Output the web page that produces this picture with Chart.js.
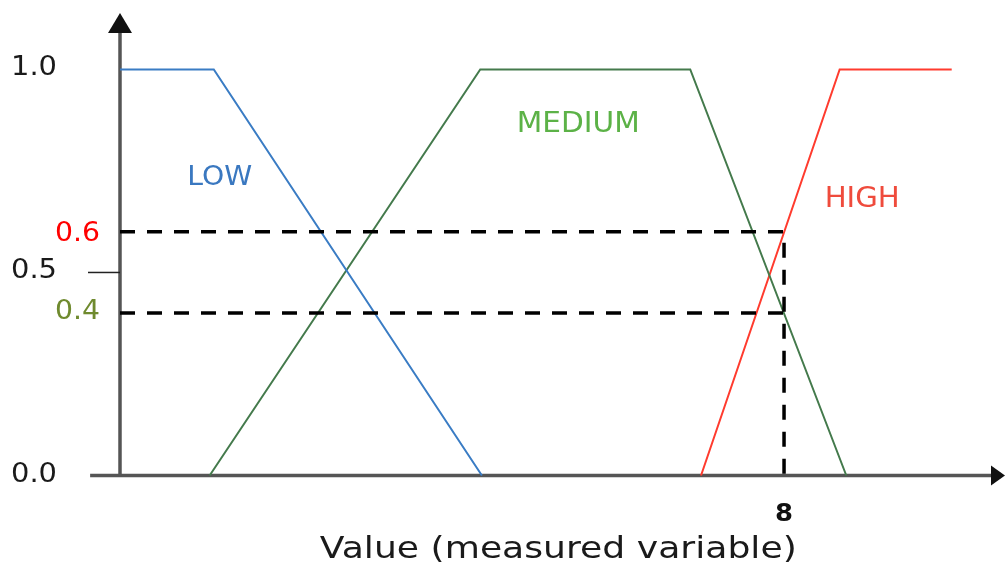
<!DOCTYPE html>
<html>
<head>
<meta charset="utf-8">
<script src="https://cdn.jsdelivr.net/npm/chart.js@4.4.1/dist/chart.umd.min.js"></script>
<style>
html,body{margin:0;padding:0;background:#fff;}
#wrap{width:1006px;height:565px;position:relative;}
</style>
</head>
<body>
<div id="wrap"><canvas id="c"></canvas></div>
<script>
// ---- Data (membership functions, x = measured value, y = membership degree) ----
const lowX  = [0, 1.13, 4.36];
const lowY  = [1, 1, 0];
const medX  = [1.08, 4.34, 6.87, 8.75];
const medY  = [0, 1, 1, 0];
const highX = [7.0, 8.67, 10.02];
const highY = [0, 1, 1];

const crispValue = 8;        // measured input
const highDegree = 0.6;      // membership in HIGH at x = 8
const medDegree  = 0.4;      // membership in MEDIUM at x = 8

const yTickValues = [0.0, 0.5, 1.0];
const yTickLabels = ["0.0", "0.5", "1.0"];
const xTickLabel  = "8";
const xTitle      = "Value (measured variable)";
const setNames    = ["LOW", "MEDIUM", "HIGH"];

const toPts = (xs, ys) => xs.map((x, i) => ({x: x, y: ys[i]}));

const dashHigh = [{x: 0, y: highDegree}, {x: crispValue, y: highDegree}, {x: crispValue, y: 0}];
const dashMed  = [{x: 0, y: medDegree},  {x: crispValue, y: medDegree}];

// text helper: draw text horizontally fitted to a width
function drawText(ctx, text, x, y, font, color, width, align) {
  ctx.save();
  ctx.font = font;
  const w = ctx.measureText(text).width;
  const s = width ? width / w : 1;
  ctx.translate(x, y);
  ctx.scale(s, 1);
  ctx.fillStyle = color;
  ctx.textAlign = align || 'left';
  ctx.textBaseline = 'alphabetic';
  ctx.fillText(text, 0, 0);
  ctx.restore();
}

const axesPlugin = {
  id: 'fuzzyAxes',
  beforeDatasetsDraw(chart) {
    const ctx = chart.ctx, xs = chart.scales.x, ys = chart.scales.y, ca = chart.chartArea;
    const x0 = xs.getPixelForValue(0), y0 = ys.getPixelForValue(0);
    ctx.save();
    ctx.strokeStyle = '#555';
    ctx.lineWidth = 3.5;
    ctx.lineCap = 'butt';
    // x axis
    ctx.beginPath();
    ctx.moveTo(xs.getPixelForValue(-0.36), y0);
    ctx.lineTo(ca.right - 8, y0);
    ctx.stroke();
    // y axis
    ctx.beginPath();
    ctx.moveTo(x0, y0 + 1.5);
    ctx.lineTo(x0, ca.top + 12);
    ctx.stroke();
    // arrowheads
    ctx.fillStyle = '#111';
    ctx.beginPath();
    ctx.moveTo(x0, ca.top);
    ctx.lineTo(x0 - 12, ca.top + 20);
    ctx.lineTo(x0 + 12, ca.top + 20);
    ctx.closePath();
    ctx.fill();
    ctx.beginPath();
    ctx.moveTo(ca.right + 1, y0);
    ctx.lineTo(ca.right - 13, y0 - 10);
    ctx.lineTo(ca.right - 13, y0 + 10);
    ctx.closePath();
    ctx.fill();
    // small tick at 0.5
    const y5 = ys.getPixelForValue(0.5);
    ctx.strokeStyle = '#222';
    ctx.lineWidth = 1.5;
    ctx.beginPath();
    ctx.moveTo(x0 - 32, y5);
    ctx.lineTo(x0, y5);
    ctx.stroke();
    ctx.restore();
  },
  afterDatasetsDraw(chart) {
    const ctx = chart.ctx, xs = chart.scales.x, ys = chart.scales.y;
    const F = '"DejaVu Sans", sans-serif';
    // y tick labels
    yTickValues.forEach((v, i) => {
      drawText(ctx, yTickLabels[i], 11, ys.getPixelForValue(v) + 6, '27px ' + F, '#1a1a1a', 46, 'left');
    });
    drawText(ctx, highDegree.toFixed(1), 55, ys.getPixelForValue(highDegree) + 9, '27px ' + F, '#ff0000', 45, 'left');
    drawText(ctx, medDegree.toFixed(1), 55, ys.getPixelForValue(medDegree) + 6, '27px ' + F, '#6f8a2e', 45, 'left');
    // x tick label
    const y0 = ys.getPixelForValue(0);
    drawText(ctx, xTickLabel, xs.getPixelForValue(crispValue), y0 + 45, 'bold 24px ' + F, '#111', 18, 'center');
    // x title
    drawText(ctx, xTitle, xs.getPixelForValue(5.28), y0 + 82, '31px ' + F, '#1a1a1a', 477, 'center');
    // set names
    drawText(ctx, setNames[0], xs.getPixelForValue(0.81), ys.getPixelForValue(0.716), '26px ' + F, '#3a78c0', 65, 'left');
    drawText(ctx, setNames[1], xs.getPixelForValue(4.78), ys.getPixelForValue(0.846), '28px ' + F, '#5cb247', 123, 'left');
    drawText(ctx, setNames[2], xs.getPixelForValue(8.49), ys.getPixelForValue(0.661), '28px ' + F, '#ef4b3c', 75, 'left');
  }
};

new Chart(document.getElementById('c'), {
  type: 'scatter',
  data: {
    datasets: [
      {data: dashHigh, borderColor: '#000', borderWidth: 3.5, borderDash: [15, 12], showLine: true, pointRadius: 0, clip: false},
      {data: dashMed,  borderColor: '#000', borderWidth: 3.5, borderDash: [15, 12], showLine: true, pointRadius: 0, clip: false},
      {data: toPts(lowX, lowY),   borderColor: '#3a7cc4', borderWidth: 2, showLine: true, pointRadius: 0, clip: false},
      {data: toPts(medX, medY),   borderColor: '#447a4c', borderWidth: 2, showLine: true, pointRadius: 0, clip: false},
      {data: toPts(highX, highY), borderColor: '#ff3b2e', borderWidth: 2, showLine: true, pointRadius: 0, clip: false}
    ]
  },
  options: {
    responsive: true,
    maintainAspectRatio: false,
    animation: false,
    devicePixelRatio: 1,
    layout: {padding: {left: 120, right: 2, top: 13, bottom: 89.5}},
    scales: {
      x: {type: 'linear', min: 0, max: 10.65, display: false},
      y: {type: 'linear', min: 0, max: 1.139, display: false}
    },
    plugins: {legend: {display: false}, tooltip: {enabled: false}}
  },
  plugins: [axesPlugin]
});
</script>
</body>
</html>
